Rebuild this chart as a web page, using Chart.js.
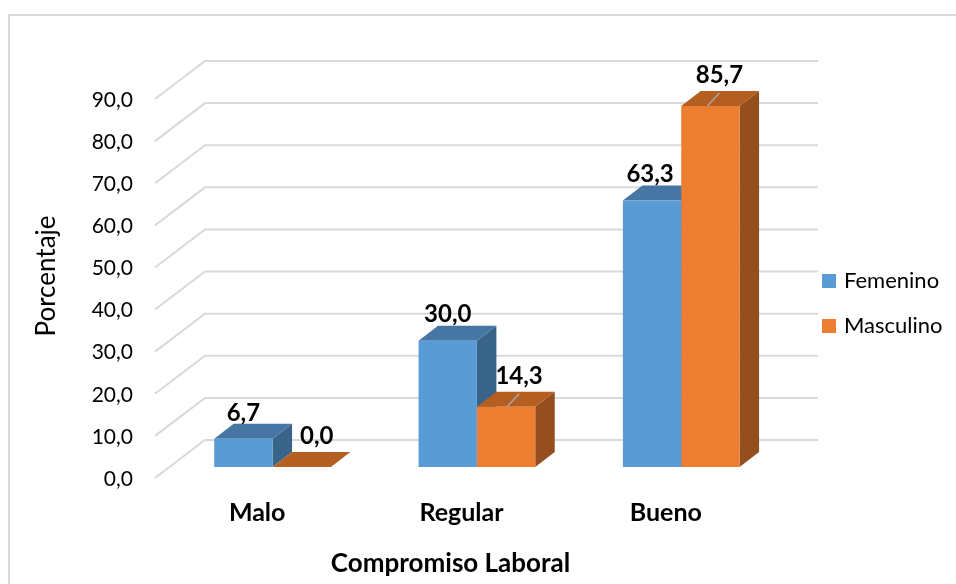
<!DOCTYPE html>
<html lang="es">
<head>
<meta charset="utf-8">
<title>Compromiso Laboral</title>
<script src="https://cdn.jsdelivr.net/npm/chart.js@4"></script>
<style>
  html, body { margin: 0; padding: 0; background: #fff; }
  canvas { display: block; }
</style>
</head>
<body>
<canvas id="chart" width="956" height="584"></canvas>
<script>
// Chart data
const categories = ['Malo', 'Regular', 'Bueno'];
const femenino = [6.7, 30.0, 63.3];
const masculino = [0.0, 14.3, 85.7];
const yTicks = [0, 10, 20, 30, 40, 50, 60, 70, 80, 90];

// Horizontal nudges for the value labels of each series
const femeninoNudge = [0, 0, -2];
const masculinoNudge = [15, 13, 9];
const femeninoLift = 26;
const masculinoLift = 31;

// Oblique projection used for the 3D look
const WALL = { dx: 50, dy: -38 };      // front plane to back wall
const BAR_SHIFT = { dx: 15.4, dy: -11 }; // front plane to bar face
const BAR_DEPTH = { dx: 19.5, dy: -15 }; // bar face to bar rear

const FONT = 'Lato, "Open Sans", sans-serif';
const GRID = '#d9d9d9';
const faces = [
  { front: '#5b9bd5', top: '#4676a3', side: '#39648a' },
  { front: '#ed7d31', top: '#b55e22', side: '#954f1e' }
];

const fmt = v => v.toFixed(1).replace('.', ',');

function poly(ctx, pts, fill) {
  ctx.beginPath();
  pts.forEach((p, i) => i ? ctx.lineTo(p[0], p[1]) : ctx.moveTo(p[0], p[1]));
  ctx.closePath();
  ctx.fillStyle = fill;
  ctx.fill();
}

// Square legend swatch, narrower in layout than in paint so the text sits close
function swatch(color) {
  const c = document.createElement('canvas');
  c.width = 14;
  c.height = 14;
  const g = c.getContext('2d');
  g.fillStyle = color;
  g.fillRect(0, 0, 14, 14);
  return c;
}

const scene3d = {
  id: 'scene3d',
  afterLayout(chart) {
    // Legend sits in the right margin, clear of the plot walls
    const lg = chart.legend;
    const pad = lg.options.labels.padding;
    const w = lg.width;
    lg.left = 825 - pad;
    lg.right = lg.left + w;
    lg.top = 270 - pad;
    lg.bottom = lg.top + lg.height;
  },
  beforeDraw(chart) {
    const { ctx, width, height } = chart;
    ctx.save();
    ctx.fillStyle = '#fff';
    ctx.fillRect(0, 0, width, height);
    // Chart frame
    ctx.strokeStyle = GRID;
    ctx.lineWidth = 2;
    ctx.beginPath();
    ctx.moveTo(9, height);
    ctx.lineTo(9, 15);
    ctx.lineTo(width, 15);
    ctx.stroke();
    ctx.restore();
  },
  beforeDatasetsDraw(chart) {
    const { ctx, chartArea, scales } = chart;
    // Floor-to-wall gridlines
    ctx.save();
    ctx.strokeStyle = GRID;
    ctx.lineWidth = 2;
    yTicks.forEach(v => {
      const y = scales.y.getPixelForValue(v);
      ctx.beginPath();
      ctx.moveTo(chartArea.left, y);
      ctx.lineTo(chartArea.left + WALL.dx, y + WALL.dy);
      ctx.lineTo(chartArea.right + WALL.dx, y + WALL.dy);
      ctx.stroke();
    });
    ctx.restore();

    // Bars are placed partway into the depth of the floor
    ctx.save();
    ctx.translate(BAR_SHIFT.dx, BAR_SHIFT.dy);
    chart.data.datasets.forEach((ds, d) => {
      chart.getDatasetMeta(d).data.forEach(bar => {
        const p = bar.getProps(['x', 'y', 'base', 'width'], true);
        const l = p.x - p.width / 2, r = p.x + p.width / 2;
        const ox = BAR_DEPTH.dx, oy = BAR_DEPTH.dy;
        poly(ctx, [[r, p.y], [r + ox, p.y + oy], [r + ox, p.base + oy], [r, p.base]], faces[d].side);
        poly(ctx, [[l, p.y], [l + ox, p.y + oy], [r + ox, p.y + oy], [r, p.y]], faces[d].top);
      });
    });
  },
  afterDatasetsDraw(chart) {
    const { ctx } = chart;
    ctx.restore();

    // Value labels with their short leader lines
    ctx.save();
    ctx.font = 'bold 24px ' + FONT;
    ctx.textAlign = 'center';
    ctx.textBaseline = 'middle';
    chart.data.datasets.forEach((ds, d) => {
      const nudges = d === 0 ? femeninoNudge : masculinoNudge;
      const lift = d === 0 ? femeninoLift : masculinoLift;
      chart.getDatasetMeta(d).data.forEach((bar, i) => {
        const p = bar.getProps(['x', 'y'], true);
        const cx = p.x + BAR_SHIFT.dx;
        const top = p.y + BAR_SHIFT.dy;
        if (d === 1 && ds.data[i] > 0) {
          ctx.strokeStyle = '#a6a6a6';
          ctx.lineWidth = 1.5;
          ctx.beginPath();
          ctx.moveTo(cx + nudges[i] - 12, top);
          ctx.lineTo(cx + nudges[i], top - 13);
          ctx.stroke();
        }
        ctx.fillStyle = '#000';
        ctx.fillText(fmt(ds.data[i]), cx + nudges[i], top - lift);
      });
    });
    ctx.restore();
  },
  afterDraw(chart) {
    // Axis titles
    const { ctx } = chart;
    ctx.save();
    ctx.fillStyle = '#000';
    ctx.textAlign = 'center';
    ctx.textBaseline = 'middle';
    ctx.font = 'bold 26px ' + FONT;
    ctx.fillText('Compromiso Laboral', 450.5, 564);
    ctx.translate(47, 276);
    ctx.rotate(-Math.PI / 2);
    ctx.font = '26px ' + FONT;
    ctx.fillText('Porcentaje', 0, 0);
    ctx.restore();
  }
};

new Chart(document.getElementById('chart'), {
  type: 'bar',
  data: {
    labels: categories,
    datasets: [
      { label: 'Femenino', data: femenino, backgroundColor: faces[0].front, borderWidth: 0, clip: false },
      { label: 'Masculino', data: masculino, backgroundColor: faces[1].front, borderWidth: 0, clip: false }
    ]
  },
  options: {
    responsive: false,
    animation: false,
    layout: { padding: { top: 99, right: 188, bottom: 0, left: 0 } },
    datasets: { bar: { barPercentage: 1, categoryPercentage: 0.571 } },
    scales: {
      x: {
        grid: { display: false },
        border: { display: false },
        afterFit(s) { s.height = 106; },
        ticks: {
          padding: 12,
          color: '#000',
          maxRotation: 0,
          font: { family: FONT, size: 25, weight: 'bold' }
        }
      },
      y: {
        min: 0,
        max: 90,
        grid: { display: false },
        border: { display: false },
        afterFit(s) { s.width = 155; },
        afterBuildTicks(s) { s.ticks = yTicks.map(value => ({ value })); },
        ticks: {
          padding: 14,
          labelOffset: 1,
          color: '#000',
          autoSkip: false,
          callback: v => fmt(v),
          font: { family: FONT, size: 21 }
        }
      }
    },
    plugins: {
      tooltip: { enabled: false },
      legend: {
        position: 'chartArea',
        align: 'start',
        labels: {
          usePointStyle: true,
          pointStyleWidth: 8,
          boxHeight: 14,
          padding: 23,
          color: '#000',
          font: { family: FONT, size: 22 },
          generateLabels(chart) {
            return Chart.defaults.plugins.legend.labels.generateLabels(chart)
              .map((item, i) => ({ ...item, pointStyle: swatch(faces[i].front) }));
          }
        }
      }
    }
  },
  plugins: [scene3d]
});
</script>
</body>
</html>
